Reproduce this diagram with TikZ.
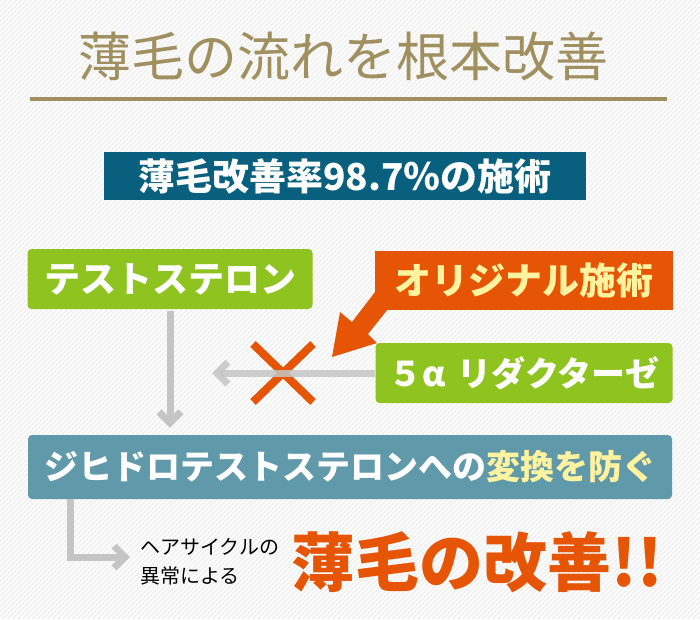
\documentclass[tikz,border=0pt]{standalone}
\usepackage{fontspec}
\setmainfont{Noto Sans CJK JP}
\usetikzlibrary{arrows.meta}

\definecolor{bggray}{RGB}{240,240,240}
\definecolor{goldtxt}{RGB}{160,144,96}
\definecolor{navybox}{RGB}{8,95,126}
\definecolor{leafgreen}{RGB}{143,195,31}
\definecolor{burnt}{RGB}{230,84,5}
\definecolor{paleyellow}{RGB}{255,243,160}
\definecolor{slateteal}{RGB}{96,154,170}
\definecolor{arrowgray}{RGB}{197,197,197}

\begin{document}
\begin{tikzpicture}[x=1pt,y=-1pt,
  boxtext/.style={text=white,inner sep=0pt,font=\bfseries\fontsize{#1}{#1}\selectfont},
  greenbox/.style={fill=leafgreen,rounded corners=4pt,minimum height=60pt},
  grayarrow/.style={draw=arrowgray,line width=7pt,-{Straight Barb[length=11pt,width=22pt]}},
  crossline/.style={draw=burnt,line width=8pt}]
	%% background with stripes
	\fill[bggray] (0,0) rectangle (700,619);
	\begin{scope}
		\clip (0,0) rectangle (700,619);
		\foreach \i in {-620,-615,...,700}
			\draw[white,line width=1.6pt] (\i,619) -- (\i+619,0);
	\end{scope}
	\useasboundingbox (0,0) rectangle (700,619);

	%% heading
	\node[text=goldtxt,font=\fontsize{53}{53}\selectfont] (title) at (343,56) {薄毛の流れを根本改善};
	\coordinate (ruleL) at (30,99);
	\coordinate (ruleR) at (667,99);
	\draw[goldtxt,line width=4pt] (ruleL) -- (ruleR);

	\node[boxtext=37,fill=navybox,minimum width=482pt,minimum height=48pt] (rate) at (345,176) {薄毛改善率98.7％の施術};

	%% boxes
	\node[boxtext=36,greenbox,minimum width=285pt] (testo) at (170,279) {テストステロン};
	\fill[burnt] (375,292) -- (352,322) -- (340,312) -- (332,357) -- (377,343) -- (368,334) -- (388,309) -- cycle;
	\node[boxtext=37,fill=burnt,text=paleyellow,minimum width=298pt,minimum height=59pt] (orig) at (524,280) {オリジナル施術};
	\node[boxtext=34,greenbox,minimum width=297pt] (red) at (524,373) {５α\hspace{0.35em}リダクターゼ};
	\node[boxtext=34,fill=slateteal,rounded corners=4pt,minimum width=644pt,minimum height=64pt] (dht) at (350,467)
		{ジヒドロテストステロンへの{\color{paleyellow}変換を防ぐ}};

	\node[anchor=west,align=left,inner sep=0pt,font=\fontsize{20}{29}\selectfont] (note) at (140,562) {ヘアサイクルの\\異常による};
	\node[text=burnt,inner sep=0pt,font=\bfseries\fontsize{64}{64}\selectfont] (result) at (477,562) {薄毛の改善!!};

	%% arrows
	\coordinate (block) at (283,373);
	\coordinate (htip) at (212,373);
	\coordinate (lcorner) at (70,557);
	\coordinate (ltip) at (130,557);
	\draw[crossline] ([shift={(-30,-29)}]block) -- ([shift={(30,29)}]block);
	\draw[crossline] ([shift={(30,-29)}]block) -- ([shift={(-30,29)}]block);
	\draw[grayarrow,draw opacity=0.85] (red.west) -- (htip);
	\draw[grayarrow] ([yshift=-2pt]testo.south) -- ([yshift=7pt]testo.south |- dht.north);
	\draw[grayarrow] (dht.south -| lcorner) -- (lcorner) -- (ltip);
\end{tikzpicture}
\end{document}
